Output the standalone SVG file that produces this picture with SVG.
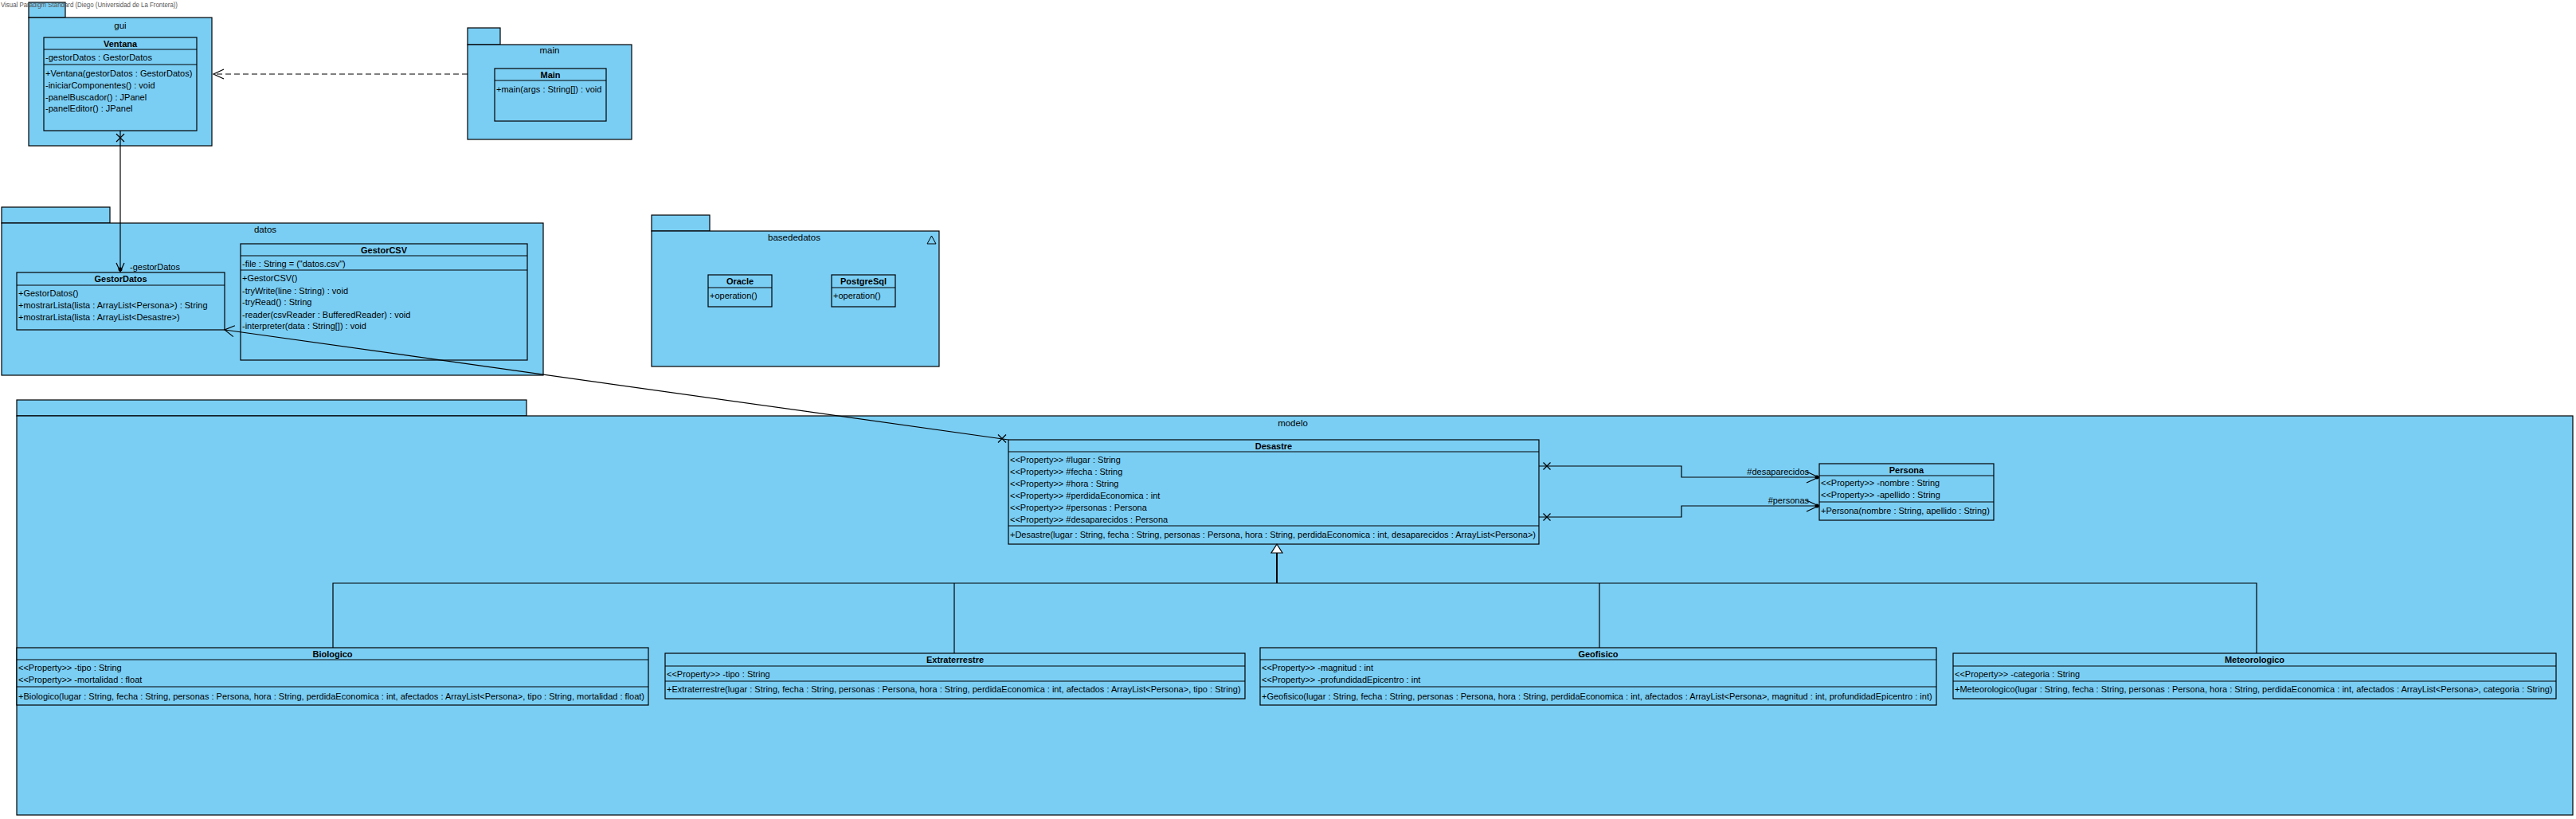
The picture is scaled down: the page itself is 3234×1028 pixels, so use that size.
<svg xmlns="http://www.w3.org/2000/svg" width="3234" height="1028" viewBox="0 0 3234 1028">
<style>
.pkg{fill:#7ACEF4;stroke:#000;stroke-width:1.2}
.cls{fill:#7ACEF4;stroke:#000;stroke-width:1.2}
.sep{stroke:#000;stroke-width:1.2}
text{font-family:"Liberation Sans",Arial,sans-serif;font-size:11px;fill:#000}
.cn{font-weight:bold;text-anchor:middle}
.pl{text-anchor:middle;font-size:11.5px}
.c{fill:none;stroke:#000;stroke-width:1.2}
.wm{font-size:8.5px;fill:#555}
</style>
<rect x="0" y="0" width="3234" height="1028" fill="#fff"/>

<g id="pkg-gui">
<rect class="pkg" x="36" y="3" width="46" height="19"/>
<rect class="pkg" x="36" y="22" width="230" height="161"/>
<text class="pl" x="151" y="36">gui</text>
</g>
<g id="pkg-main">
<rect class="pkg" x="587" y="35" width="41" height="21"/>
<rect class="pkg" x="587" y="56" width="206" height="119"/>
<text class="pl" x="690" y="67">main</text>
</g>
<g id="pkg-datos">
<rect class="pkg" x="2" y="260" width="136" height="20"/>
<rect class="pkg" x="2" y="280" width="680" height="191"/>
<text class="pl" x="333" y="292">datos</text>
</g>
<g id="pkg-basededatos">
<rect class="pkg" x="818" y="270" width="73" height="20"/>
<rect class="pkg" x="818" y="290" width="361" height="170"/>
<text class="pl" x="997" y="302">basededatos</text>
<polygon points="1164,306 1175,306 1169.5,296" fill="none" stroke="#000" stroke-width="1"/>
</g>
<g id="pkg-modelo">
<rect class="pkg" x="21" y="502" width="640" height="20"/>
<rect class="pkg" x="21" y="522" width="3209" height="501"/>
<text class="pl" x="1623" y="535">modelo</text>
</g>

<text class="wm" x="1" y="9" textLength="222" lengthAdjust="spacingAndGlyphs">Visual Paradigm Standard (Diego (Universidad de La Frontera))</text>

<g id="Ventana">
<rect class="cls" x="55" y="47" width="192" height="117"/>
<line class="sep" x1="55" y1="62" x2="247" y2="62"/>
<line class="sep" x1="55" y1="81" x2="247" y2="81"/>
<text class="cn" x="151" y="58.5">Ventana</text>
<text x="57" y="76">-gestorDatos : GestorDatos</text>
<text x="57" y="96">+Ventana(gestorDatos : GestorDatos)</text>
<text x="57" y="111">-iniciarComponentes() : void</text>
<text x="57" y="126">-panelBuscador() : JPanel</text>
<text x="57" y="140">-panelEditor() : JPanel</text>
</g>

<g id="Main">
<rect class="cls" x="621" y="86" width="140" height="66"/>
<line class="sep" x1="621" y1="101" x2="761" y2="101"/>
<text class="cn" x="691" y="97.5">Main</text>
<text x="623" y="116">+main(args : String[]) : void</text>
</g>

<g id="GestorDatos">
<rect class="cls" x="21" y="342" width="261" height="72"/>
<line class="sep" x1="21" y1="358" x2="282" y2="358"/>
<text class="cn" x="151.5" y="354">GestorDatos</text>
<text x="23" y="372">+GestorDatos()</text>
<text x="23" y="387">+mostrarLista(lista : ArrayList&lt;Persona&gt;) : String</text>
<text x="23" y="402">+mostrarLista(lista : ArrayList&lt;Desastre&gt;)</text>
</g>

<g id="GestorCSV">
<rect class="cls" x="302" y="306" width="360" height="146"/>
<line class="sep" x1="302" y1="321" x2="662" y2="321"/>
<line class="sep" x1="302" y1="339" x2="662" y2="339"/>
<text class="cn" x="482" y="317.5">GestorCSV</text>
<text x="304" y="335">-file : String = ("datos.csv")</text>
<text x="304" y="353">+GestorCSV()</text>
<text x="304" y="369">-tryWrite(line : String) : void</text>
<text x="304" y="383">-tryRead() : String</text>
<text x="304" y="399">-reader(csvReader : BufferedReader) : void</text>
<text x="304" y="413">-interpreter(data : String[]) : void</text>
</g>

<g id="Oracle">
<rect class="cls" x="889" y="345" width="80" height="40"/>
<line class="sep" x1="889" y1="361" x2="969" y2="361"/>
<text class="cn" x="929" y="357">Oracle</text>
<text x="891" y="375">+operation()</text>
</g>

<g id="PostgreSql">
<rect class="cls" x="1044" y="345" width="80" height="40"/>
<line class="sep" x1="1044" y1="361" x2="1124" y2="361"/>
<text class="cn" x="1084" y="357">PostgreSql</text>
<text x="1046" y="375">+operation()</text>
</g>

<g id="Desastre">
<rect class="cls" x="1266" y="552" width="666" height="131"/>
<line class="sep" x1="1266" y1="567" x2="1932" y2="567"/>
<line class="sep" x1="1266" y1="660" x2="1932" y2="660"/>
<text class="cn" x="1599" y="563.5">Desastre</text>
<text x="1268" y="581">&lt;&lt;Property&gt;&gt; #lugar : String</text>
<text x="1268" y="596">&lt;&lt;Property&gt;&gt; #fecha : String</text>
<text x="1268" y="611">&lt;&lt;Property&gt;&gt; #hora : String</text>
<text x="1268" y="626">&lt;&lt;Property&gt;&gt; #perdidaEconomica : int</text>
<text x="1268" y="641">&lt;&lt;Property&gt;&gt; #personas : Persona</text>
<text x="1268" y="656">&lt;&lt;Property&gt;&gt; #desaparecidos : Persona</text>
<text x="1268" y="675">+Desastre(lugar : String, fecha : String, personas : Persona, hora : String, perdidaEconomica : int, desaparecidos : ArrayList&lt;Persona&gt;)</text>
</g>

<g id="Persona">
<rect class="cls" x="2284" y="582" width="219" height="71"/>
<line class="sep" x1="2284" y1="597" x2="2503" y2="597"/>
<line class="sep" x1="2284" y1="630" x2="2503" y2="630"/>
<text class="cn" x="2393.5" y="593.5">Persona</text>
<text x="2286" y="610">&lt;&lt;Property&gt;&gt; -nombre : String</text>
<text x="2286" y="625">&lt;&lt;Property&gt;&gt; -apellido : String</text>
<text x="2286" y="645">+Persona(nombre : String, apellido : String)</text>
</g>

<g id="Biologico">
<rect class="cls" x="21" y="813" width="793" height="72"/>
<line class="sep" x1="21" y1="828" x2="814" y2="828"/>
<line class="sep" x1="21" y1="862" x2="814" y2="862"/>
<text class="cn" x="417.5" y="824.5">Biologico</text>
<text x="23" y="842">&lt;&lt;Property&gt;&gt; -tipo : String</text>
<text x="23" y="857">&lt;&lt;Property&gt;&gt; -mortalidad : float</text>
<text x="23" y="878">+Biologico(lugar : String, fecha : String, personas : Persona, hora : String, perdidaEconomica : int, afectados : ArrayList&lt;Persona&gt;, tipo : String, mortalidad : float)</text>
</g>

<g id="Extraterrestre">
<rect class="cls" x="835" y="820" width="728" height="57"/>
<line class="sep" x1="835" y1="836" x2="1563" y2="836"/>
<line class="sep" x1="835" y1="855" x2="1563" y2="855"/>
<text class="cn" x="1199" y="832">Extraterrestre</text>
<text x="837" y="850">&lt;&lt;Property&gt;&gt; -tipo : String</text>
<text x="837" y="869">+Extraterrestre(lugar : String, fecha : String, personas : Persona, hora : String, perdidaEconomica : int, afectados : ArrayList&lt;Persona&gt;, tipo : String)</text>
</g>

<g id="Geofisico">
<rect class="cls" x="1582" y="813" width="849" height="72"/>
<line class="sep" x1="1582" y1="828" x2="2431" y2="828"/>
<line class="sep" x1="1582" y1="862" x2="2431" y2="862"/>
<text class="cn" x="2006.5" y="824.5">Geofisico</text>
<text x="1584" y="842">&lt;&lt;Property&gt;&gt; -magnitud : int</text>
<text x="1584" y="857">&lt;&lt;Property&gt;&gt; -profundidadEpicentro : int</text>
<text x="1584" y="878">+Geofisico(lugar : String, fecha : String, personas : Persona, hora : String, perdidaEconomica : int, afectados : ArrayList&lt;Persona&gt;, magnitud : int, profundidadEpicentro : int)</text>
</g>

<g id="Meteorologico">
<rect class="cls" x="2452" y="820" width="757" height="57"/>
<line class="sep" x1="2452" y1="836" x2="3209" y2="836"/>
<line class="sep" x1="2452" y1="855" x2="3209" y2="855"/>
<text class="cn" x="2830.5" y="832">Meteorologico</text>
<text x="2454" y="850">&lt;&lt;Property&gt;&gt; -categoria : String</text>
<text x="2454" y="869">+Meteorologico(lugar : String, fecha : String, personas : Persona, hora : String, perdidaEconomica : int, afectados : ArrayList&lt;Persona&gt;, categoria : String)</text>
</g>

<g id="connectors">
<!-- Main -> Ventana dependency -->
<line class="c" x1="587" y1="93" x2="269" y2="93" stroke-dasharray="7 4"/>
<polyline class="c" points="281,87 268,93 281,99"/>
<!-- Ventana -> GestorDatos -->
<line class="c" x1="151" y1="164" x2="151" y2="341"/>
<path class="c" d="M146,168 L156,178 M156,168 L146,178"/>
<polyline class="c" points="146,330 151,341 156,330"/>
<circle cx="151" cy="338" r="2.5" fill="#000"/>
<text x="163" y="339">-gestorDatos</text>
<!-- Desastre -> GestorDatos -->
<line class="c" x1="1266" y1="552" x2="282" y2="414"/>
<path class="c" d="M1253,545.5 L1263,555.5 M1263,545.5 L1253,555.5"/>
<polyline class="c" points="294.9,408.8 282,414 292.9,422.6"/>
<!-- Desastre -> Persona #desaparecidos -->
<polyline class="c" points="1932,585 2111,585 2111,599 2283,599"/>
<path class="c" d="M1937.5,580.5 L1946.5,589.5 M1946.5,580.5 L1937.5,589.5"/>
<polyline class="c" points="2268,592 2283,599 2268,606"/>
<circle cx="2281" cy="599" r="2.5" fill="#000"/>
<text x="2271" y="596" text-anchor="end">#desaparecidos</text>
<!-- Desastre -> Persona #personas -->
<polyline class="c" points="1932,649 2111,649 2111,635 2283,635"/>
<path class="c" d="M1937.5,644.5 L1946.5,653.5 M1946.5,644.5 L1937.5,653.5"/>
<polyline class="c" points="2268,628 2283,635 2268,642"/>
<circle cx="2281" cy="635" r="2.5" fill="#000"/>
<text x="2271" y="632" text-anchor="end">#personas</text>
<!-- Generalizations -->
<line x1="1603" y1="694" x2="1603" y2="732" stroke="#000" stroke-width="2"/>
<polyline class="c" points="418,813 418,732 2833,732 2833,820"/>
<line class="c" x1="1198" y1="732" x2="1198" y2="820"/>
<line class="c" x1="2008" y1="732" x2="2008" y2="813"/>
<polygon points="1603,683 1596,694 1610,694" fill="#fff" stroke="#000" stroke-width="1.2"/>
</g>
</svg>
